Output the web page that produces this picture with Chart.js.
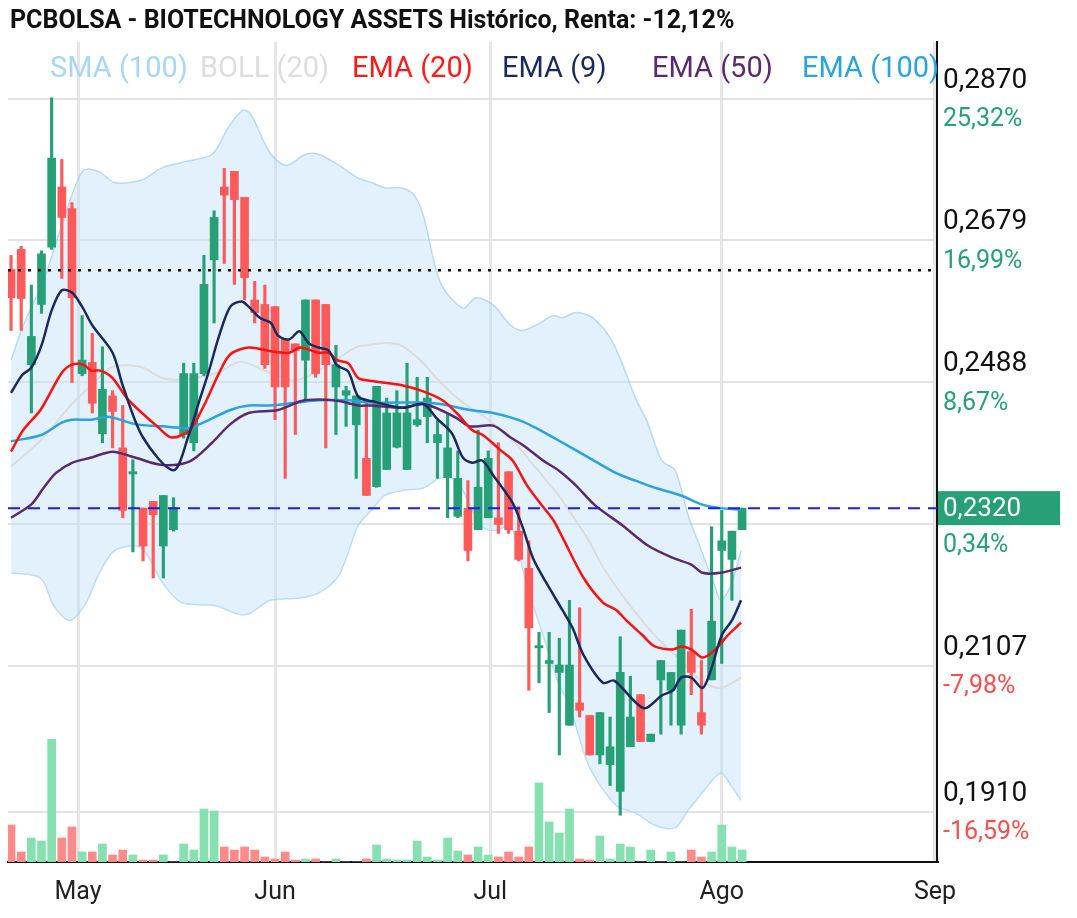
<!DOCTYPE html>
<html><head><meta charset="utf-8">
<script src="https://cdn.jsdelivr.net/npm/chart.js@4"></script>
<style>html,body{margin:0;padding:0;background:#fff}#w{width:1077px;height:918px}</style>
</head><body><div id="w"><canvas id="c"></canvas></div>
<script>
const title = 'PCBOLSA - BIOTECHNOLOGY ASSETS Histórico, Renta: -12,12%';
const monthLabels = ['May','Jun','Jul','Ago','Sep'];
const monthPos = [6.6, 26.0, 47.2, 70.0, 91.0];
const priceTicks = [0.2870, 0.2679, 0.2488, 0.2297, 0.2107, 0.1910];
const priceTickText = ['0,2870','0,2679','0,2488','','0,2107','0,1910'];
const pctTickText = ['25,32%','16,99%','8,67%','0,34%','-7,98%','-16,59%'];
const lastPrice = 0.2319, lastPriceText = '0,2320';
const refLine = 0.2639;

const open = [0.2640,0.2667,0.2512,0.2593,0.2670,0.2751,0.2722,0.2500,0.2515,0.2419,0.2470,0.2400,0.2365,0.2319,0.2328,0.2268,0.2290,0.2418,0.2407,0.2500,0.2653,0.2751,0.2772,0.2737,0.2599,0.2593,0.2590,0.2546,0.2540,0.2518,0.2599,0.2593,0.2482,0.2471,0.2431,0.2386,0.2348,0.2371,0.2401,0.2371,0.2431,0.2442,0.2407,0.2360,0.2308,0.2319,0.2290,0.2306,0.2306,0.2368,0.2288,0.2238,0.2131,0.2110,0.2098,0.2027,0.2057,0.2040,0.1987,0.1974,0.1938,0.1998,0.2068,0.2005,0.2088,0.2074,0.2027,0.2126,0.2044,0.2088,0.2262,0.2250,0.2290];
const close = [0.2602,0.2601,0.2550,0.2661,0.2790,0.2710,0.2602,0.2518,0.2460,0.2479,0.2449,0.2316,0.2368,0.2268,0.2310,0.2336,0.2319,0.2500,0.2500,0.2620,0.2710,0.2740,0.2734,0.2629,0.2582,0.2512,0.2482,0.2482,0.2531,0.2599,0.2500,0.2512,0.2512,0.2477,0.2470,0.2336,0.2483,0.2447,0.2447,0.2447,0.2438,0.2467,0.2418,0.2400,0.2359,0.2262,0.2347,0.2386,0.2297,0.2290,0.2250,0.2158,0.2134,0.2114,0.2108,0.2108,0.2047,0.1987,0.2044,0.1998,0.2098,0.2038,0.2005,0.2015,0.2114,0.2098,0.2155,0.2098,0.2027,0.2167,0.2275,0.2288,0.2319];
const high = [0.2659,0.2671,0.2619,0.2665,0.2871,0.2788,0.2730,0.2578,0.2554,0.2536,0.2477,0.2457,0.2384,0.2319,0.2328,0.2336,0.2333,0.2514,0.2514,0.2659,0.2719,0.2776,0.2772,0.2737,0.2624,0.2619,0.2590,0.2546,0.2540,0.2599,0.2599,0.2593,0.2538,0.2483,0.2470,0.2464,0.2483,0.2467,0.2477,0.2514,0.2495,0.2495,0.2437,0.2445,0.2396,0.2356,0.2424,0.2396,0.2407,0.2368,0.2321,0.2275,0.2152,0.2152,0.2144,0.2195,0.2185,0.2040,0.2044,0.2038,0.2146,0.2093,0.2068,0.2015,0.2114,0.2098,0.2155,0.2183,0.2114,0.2294,0.2316,0.2288,0.2319];
const low = [0.2558,0.2558,0.2447,0.2581,0.2667,0.2628,0.2488,0.2497,0.2447,0.2407,0.2400,0.2306,0.2260,0.2248,0.2225,0.2225,0.2288,0.2413,0.2396,0.2497,0.2568,0.2648,0.2620,0.2599,0.2568,0.2507,0.2438,0.2359,0.2418,0.2464,0.2495,0.2400,0.2418,0.2429,0.2359,0.2336,0.2347,0.2371,0.2400,0.2371,0.2429,0.2407,0.2359,0.2306,0.2306,0.2248,0.2290,0.2306,0.2285,0.2285,0.2248,0.2074,0.2084,0.2044,0.1987,0.2027,0.2038,0.1987,0.1975,0.1946,0.1906,0.1998,0.2005,0.2005,0.2015,0.2027,0.2015,0.2068,0.2015,0.2088,0.2110,0.2195,0.2290];
const volume = [37,10,24,21,123,24,35,10,10,18,7,12,7,2,2,7,0,18,12,53,51,15,12,15,12,5,3,10,2,3,3,0,3,0,0,3,17,3,2,2,21,5,2,24,11,7,15,7,5,10,5,15,79,40,29,53,3,2,26,3,18,15,0,12,0,10,0,12,5,10,37,15,12];

const ema9X = [0,1.1,2,3,4,5,6,7,8,10,11,13,16,17.5,18.4,19.5,20.5,21.6,22.7,23.4,24.5,25.6,26.3,27.4,28.4,29.3,30.3,31.3,32.1,33.2,34.2,35.5,38.6,40.6,41.9,43.4,44.5,45.4,46.4,47.5,49.4,50.4,51.4,52.7,54.3,55.3,56.4,58.3,59.4,62.3,64.1,65.2,66,67,68.1,68.9,70,71,71.9];
const ema9Y = [0.2474,0.2498,0.2508,0.2538,0.2585,0.2612,0.2609,0.2590,0.2565,0.2528,0.2484,0.2414,0.2370,0.2417,0.2457,0.2504,0.2551,0.2590,0.2597,0.2590,0.2575,0.2568,0.2551,0.2546,0.2557,0.2541,0.2535,0.2531,0.2511,0.2503,0.2469,0.2463,0.2454,0.2459,0.2440,0.2420,0.2387,0.2380,0.2383,0.2363,0.2326,0.2293,0.2252,0.2219,0.2182,0.2158,0.2121,0.2084,0.2087,0.2050,0.2067,0.2074,0.2091,0.2091,0.2077,0.2100,0.2148,0.2168,0.2195];
const ema20X = [0,1.2,2.9,5,6,7.1,7.9,8.8,10,11.4,12.9,14.4,15.8,17.6,19,20.5,21.6,23.4,25.6,27.4,28.5,30.3,31.3,32.1,33.2,34.2,35.5,38.6,40.6,42.5,44.1,45.4,46.5,48.2,49.4,50.8,52.1,53.4,54.3,56.4,58.3,59.6,60.6,62.2,63.4,65.2,66,67,68.1,69.3,70.6,71.9];
const ema20Y = [0.2395,0.2424,0.2451,0.2501,0.2512,0.2512,0.2504,0.2504,0.2494,0.2467,0.2447,0.2429,0.2414,0.2424,0.2457,0.2501,0.2526,0.2535,0.2530,0.2528,0.2535,0.2528,0.2528,0.2518,0.2514,0.2494,0.2490,0.2484,0.2476,0.2464,0.2444,0.2424,0.2417,0.2397,0.2383,0.2350,0.2326,0.2303,0.2280,0.2225,0.2192,0.2182,0.2168,0.2148,0.2133,0.2129,0.2133,0.2129,0.2118,0.2128,0.2148,0.2165];
const ema50X = [0,2,3.2,4.4,6,7.9,10,12.2,14.9,17.6,19.8,21.6,23.4,26.3,28.6,30.3,32.3,34.2,35.5,38.6,40.6,42.3,43.9,45.2,47.5,49.2,50.4,52.4,54,55.6,57.5,60.2,62.8,65.2,67,68.1,69.9,71.9];
const ema50Y = [0.2306,0.2324,0.2346,0.2366,0.2380,0.2387,0.2395,0.2387,0.2377,0.2382,0.2407,0.2432,0.2447,0.2451,0.2463,0.2465,0.2463,0.2457,0.2457,0.2454,0.2459,0.2451,0.2440,0.2429,0.2430,0.2414,0.2404,0.2383,0.2369,0.2350,0.2323,0.2296,0.2268,0.2252,0.2243,0.2232,0.2232,0.2239];
const ema100X = [0,2.9,5,6,7.9,9.6,12.2,14.9,17.6,18.6,21.6,23.4,25.5,28.1,30.3,33.2,35.5,40.3,42.3,45.2,47.5,50.1,52.1,53.8,56.9,59.6,61.5,63.5,66,68,69.9,71.9];
const ema100Y = [0.2409,0.2417,0.2434,0.2438,0.2438,0.2442,0.2432,0.2429,0.2427,0.2432,0.2451,0.2457,0.2457,0.2461,0.2464,0.2464,0.2461,0.2461,0.2459,0.2451,0.2447,0.2437,0.2424,0.2411,0.2387,0.2366,0.2356,0.2346,0.2336,0.2324,0.2319,0.2317];
const bollMidX = [0,2.9,6,7.9,10,12.8,14.9,17.1,20.3,22.6,25.5,28.1,31.3,33.9,35.5,36.8,38.4,40.3,42.3,44.5,46.8,49.4,51.7,54,54.6,56.6,58.5,60.2,62.3,64.1,66,68,69.9,71.9];
const bollMidY = [0.2375,0.2410,0.2459,0.2484,0.2509,0.2509,0.2494,0.2492,0.2501,0.2516,0.2501,0.2491,0.2512,0.2535,0.2539,0.2541,0.2538,0.2518,0.2488,0.2461,0.2440,0.2410,0.2373,0.2335,0.2323,0.2282,0.2235,0.2202,0.2165,0.2138,0.2114,0.2087,0.2077,0.2091];
const bollUpX = [0,1.2,3.2,5.5,7.1,8.6,10.2,12.8,14.9,17.1,19.8,21.4,22.8,23.6,25.5,27.1,29,30.3,32.3,34.2,35.5,36.8,38.4,39.7,40.6,42.3,44.5,45.8,47.5,49.2,50.4,52.1,53.4,54.3,55.6,57.3,59.3,61.6,62.6,64.1,65.4,66.7,68,69.3,69.9,70.9,71.9];
const bollUpY = [0.2518,0.2565,0.2625,0.2720,0.2773,0.2772,0.2757,0.2760,0.2777,0.2785,0.2795,0.2831,0.2854,0.2849,0.2797,0.2780,0.2795,0.2795,0.2780,0.2763,0.2757,0.2750,0.2750,0.2740,0.2713,0.2622,0.2588,0.2602,0.2592,0.2565,0.2558,0.2568,0.2578,0.2575,0.2582,0.2575,0.2541,0.2464,0.2437,0.2383,0.2370,0.2309,0.2262,0.2215,0.2195,0.2215,0.2262];
const bollLowX = [0,2.9,4.2,5.8,7.4,8.6,10.2,12.8,14.9,16.8,20.1,22.5,23.6,25.5,28.4,30.3,32.3,34.2,35.5,36.8,38.6,40.6,42.3,43.9,45.2,46.5,47.8,49.2,50.8,52.4,54,55,56.9,59.6,61.5,63.5,65.4,66.7,68.3,69.9,70.9,71.9];
const bollLowY = [0.2232,0.2225,0.2188,0.2168,0.2192,0.2229,0.2262,0.2266,0.2219,0.2192,0.2188,0.2176,0.2178,0.2195,0.2198,0.2205,0.2229,0.2296,0.2316,0.2336,0.2343,0.2346,0.2360,0.2356,0.2323,0.2293,0.2289,0.2296,0.2215,0.2148,0.2081,0.2054,0.1973,0.1919,0.1909,0.1892,0.1889,0.1913,0.1940,0.1963,0.1946,0.1926];

const legendItems = [['SMA (100)','#a8d6f4'],['BOLL (20)','#dddddd'],['EMA (20)','#ff1a1a'],['EMA (9)','#1b2a5c'],['EMA (50)','#5b2a6e'],['EMA (100)','#2aa3e0']];
const legendX = [50,200,352,502,652,802];

const GREEN = '#27a077', RED = '#ff5a5a', VGREEN = '#86e0b0', VRED = '#ff8a8a';
const idx = open.map((_, i) => i);
const up = idx.map(i => close[i] >= open[i]);
const pts = (X, Y) => X.map((x, i) => ({x, y: Y[i]}));
const XMIN = -0.3, XMAX = 91.2;
const FONT = 'Roboto, "Noto Sans", sans-serif';

const lineDs = (label, X, Y, color, w, order) => ({type:'line', label, data: pts(X, Y), borderColor: color, borderWidth: w, pointRadius: 0, tension: 0.3, order, yAxisID:'y'});

const textPlugin = {
  id: 'texts',
  afterDraw(chart) {
    const ctx = chart.ctx, y = chart.scales.y, a = chart.chartArea;
    ctx.save();
    ctx.textBaseline = 'middle';
    ctx.fillStyle = '#111';
    ctx.font = `bold 25px ${FONT}`;
    ctx.textAlign = 'left';
    ctx.fillText(title, 10, 22);
    ctx.font = `29px ${FONT}`;
    legendItems.forEach((it, i) => { ctx.fillStyle = it[1]; ctx.fillText(it[0], legendX[i], 70); });
    priceTicks.forEach((v, i) => {
      const py = y.getPixelForValue(v);
      if (priceTickText[i]) { ctx.fillStyle = '#111'; ctx.font = `28px ${FONT}`; ctx.fillText(priceTickText[i], 943, py - 18); }
      ctx.fillStyle = pctTickText[i].startsWith('-') ? '#ff4d4d' : '#27a077';
      ctx.font = `25px ${FONT}`;
      ctx.fillText(pctTickText[i], 943, py + 21);
    });
    const lp = y.getPixelForValue(lastPrice);
    ctx.fillStyle = GREEN;
    ctx.fillRect(a.right + 1, lp - 17, 122, 34);
    ctx.fillStyle = '#fff';
    ctx.font = `26px ${FONT}`;
    ctx.fillText(lastPriceText, 943, lp + 1);
    ctx.restore();
  }
};

new Chart(document.getElementById('c'), {
  data: {
    datasets: [
      {type:'line', label:'bollUp', data: pts(bollUpX, bollUpY), borderColor:'rgba(160,205,240,0.7)', borderWidth:1.5, pointRadius:0, tension:0.3, fill:'+1', backgroundColor:'rgba(190,225,248,0.45)', order:20, yAxisID:'y'},
      {type:'line', label:'bollLow', data: pts(bollLowX, bollLowY), borderColor:'rgba(160,205,240,0.7)', borderWidth:1.5, pointRadius:0, tension:0.3, fill:false, order:21, yAxisID:'y'},
      lineDs('bollMid', bollMidX, bollMidY, '#dcdcdc', 2, 19),
      {type:'bar', label:'vol', data: idx.map(i => ({x:i, y:volume[i]})), backgroundColor: idx.map(i => up[i] ? VGREEN : VRED), barThickness: 8, grouped:false, yAxisID:'yv', order:15},
      {type:'bar', label:'wick', data: idx.map(i => ({x:i, y:[low[i], high[i]]})), backgroundColor: idx.map(i => up[i] ? GREEN : RED), barThickness: 2.5, grouped:false, yAxisID:'y', order:10},
      {type:'bar', label:'body', data: idx.map(i => ({x:i, y:[open[i], close[i]]})), backgroundColor: idx.map(i => up[i] ? GREEN : RED), barThickness: 8, minBarLength: 2, grouped:false, yAxisID:'y', order:9},
      {type:'line', label:'ref', data:[{x:XMIN,y:refLine},{x:XMAX,y:refLine}], borderColor:'#111', borderWidth:2.5, borderDash:[3,7], pointRadius:0, order:2, yAxisID:'y'},
      {type:'line', label:'last', data:[{x:XMIN,y:lastPrice},{x:XMAX,y:lastPrice}], borderColor:'#1a1aff', borderWidth:2, borderDash:[12,8], pointRadius:0, order:2, yAxisID:'y'},
      lineDs('EMA100', ema100X, ema100Y, '#2aa3e0', 2.5, 5),
      lineDs('EMA50', ema50X, ema50Y, '#5b2a6e', 2.5, 4),
      lineDs('EMA20', ema20X, ema20Y, '#ff1010', 2.5, 3),
      lineDs('EMA9', ema9X, ema9Y, '#1b2a5c', 2.5, 1)
    ]
  },
  options: {
    responsive: true, maintainAspectRatio: false, animation: false,
    layout: {padding: {left: 8, top: 42, right: 0, bottom: 0}},
    plugins: {legend:{display:false}, tooltip:{enabled:false}},
    scales: {
      x: {type:'linear', min: XMIN, max: XMAX, offset:false,
        afterBuildTicks: s => { s.ticks = monthPos.map(v => ({value: v})); },
        afterFit: s => { s.height = 56; },
        ticks: {autoSkip:false, maxRotation:0, color:'#222', font:{family:FONT, size:25}, padding: 16,
          callback: (v) => { const k = monthPos.findIndex(p => Math.abs(p - v) < 0.01); return k >= 0 ? monthLabels[k] : ''; }},
        grid: {color:'#e6e6e6', lineWidth:3, drawTicks:false, offset:false},
        border: {color:'#111', width:2}
      },
      y: {type:'linear', position:'right', min: 0.1843, max: 0.2946,
        afterBuildTicks: s => { s.ticks = priceTicks.map(v => ({value: v})); },
        afterFit: s => { s.width = 140; },
        ticks: {callback: () => '', padding:0},
        grid: {color:'#e3e3e3', lineWidth:2, drawTicks:false},
        border: {color:'#111', width:2}
      },
      yv: {type:'linear', display:false, min:0, max:820}
    }
  },
  plugins: [textPlugin]
});
</script></body></html>
